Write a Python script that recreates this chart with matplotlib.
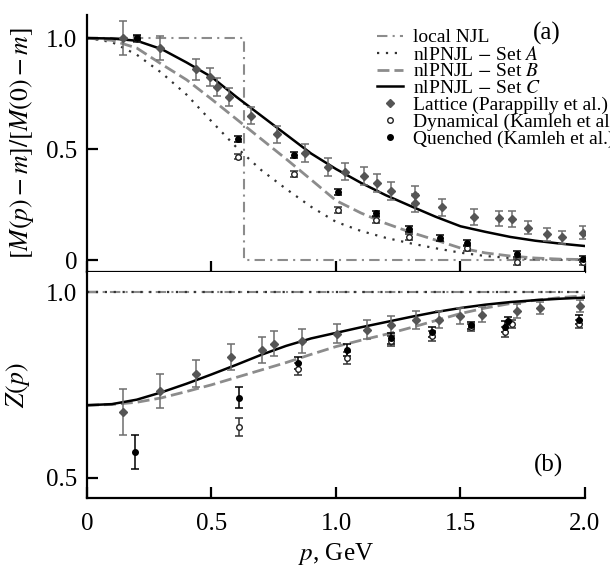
import matplotlib
matplotlib.use('Agg')
import matplotlib.pyplot as plt

plt.rcParams['font.family'] = ['Liberation Serif', 'DejaVu Serif']
plt.rcParams['mathtext.fontset'] = 'stix'

# ---------------------------------------------------------------------------
# curves, upper panel: [M(p) - m] / [M(0) - m]
p_curve = [0.0, 0.1, 0.2, 0.3, 0.4, 0.5, 0.6, 0.7, 0.8, 0.9, 1.0,
           1.1, 1.2, 1.3, 1.4, 1.5, 1.6, 1.7, 1.8, 1.9, 2.0]
m_set_a = [1.000, 0.982, 0.925, 0.843, 0.745, 0.625, 0.508, 0.405, 0.320, 0.240, 0.172,
           0.131, 0.100, 0.075, 0.053, 0.033, 0.018, 0.009, 0.004, 0.002, 0.001]
m_set_b = [1.000, 0.990, 0.955, 0.882, 0.812, 0.725, 0.635, 0.545, 0.455, 0.362, 0.268,
           0.212, 0.165, 0.125, 0.090, 0.054, 0.032, 0.018, 0.009, 0.004, 0.002]
m_set_c = [1.000, 0.998, 0.988, 0.950, 0.890, 0.825, 0.735, 0.650, 0.565, 0.480, 0.410,
           0.348, 0.292, 0.243, 0.195, 0.152, 0.127, 0.104, 0.087, 0.074, 0.063]
p_njl = [0.0, 0.63, 0.63, 2.0]
m_njl = [1.0, 1.0, 0.0, 0.0]

# curves, lower panel: Z(p)
z_set_b = [0.695, 0.697, 0.703, 0.715, 0.732, 0.750, 0.770, 0.790, 0.810, 0.832, 0.853,
           0.870, 0.886, 0.904, 0.923, 0.942, 0.957, 0.969, 0.978, 0.985, 0.990]
z_set_c = [0.695, 0.698, 0.710, 0.730, 0.753, 0.778, 0.804, 0.831, 0.855, 0.875, 0.890,
           0.905, 0.919, 0.933, 0.946, 0.957, 0.966, 0.973, 0.978, 0.982, 0.985]
p_flat = [0.0, 2.0]
z_flat = [1.0, 1.0]

# lattice (Parappilly et al.)
p_lat_m = [0.143, 0.293, 0.437, 0.493, 0.521, 0.572, 0.660, 0.762, 0.876, 0.967, 1.037, 1.113,
           1.164, 1.220, 1.318, 1.318, 1.425, 1.555, 1.653, 1.708, 1.771, 1.847, 1.908, 1.994]
m_lat = [1.000, 0.956, 0.860, 0.823, 0.781, 0.736, 0.650, 0.566, 0.483, 0.420, 0.398, 0.378,
         0.348, 0.311, 0.293, 0.258, 0.237, 0.195, 0.188, 0.185, 0.146, 0.116, 0.102, 0.123]
m_lat_err = [0.075, 0.053, 0.047, 0.040, 0.040, 0.040, 0.038, 0.039, 0.041, 0.041, 0.038, 0.040,
             0.040, 0.040, 0.040, 0.040, 0.040, 0.035, 0.035, 0.035, 0.030, 0.030, 0.028, 0.030]
p_lat_z = [0.145, 0.295, 0.436, 0.577, 0.704, 0.753, 0.862, 1.003, 1.125, 1.221,
           1.322, 1.413, 1.500, 1.588, 1.726, 1.819, 1.980]
z_lat = [0.677, 0.733, 0.780, 0.825, 0.845, 0.861, 0.868, 0.888, 0.899, 0.910,
         0.924, 0.926, 0.935, 0.939, 0.948, 0.958, 0.962]
z_lat_err = [0.061, 0.045, 0.036, 0.035, 0.035, 0.034, 0.032, 0.026, 0.025, 0.025,
             0.024, 0.022, 0.022, 0.021, 0.019, 0.016, 0.017]

# quenched / dynamical (Kamleh et al.)
p_que_m = [0.200, 0.606, 0.833, 1.010, 1.161, 1.294, 1.416, 1.526, 1.727, 1.994]
m_que = [1.000, 0.545, 0.474, 0.305, 0.210, 0.140, 0.098, 0.075, 0.027, 0.003]
p_dyn_m = [0.200, 0.606, 0.833, 1.010, 1.161, 1.294, 1.526, 1.727, 1.994]
m_dyn = [0.995, 0.466, 0.387, 0.225, 0.180, 0.103, 0.053, -0.008, -0.010]
m_pt_err = 0.013

p_que_z = [0.194, 0.611, 0.846, 1.045, 1.219, 1.387, 1.543, 1.677, 1.692, 1.974]
z_que = [0.569, 0.715, 0.808, 0.844, 0.875, 0.893, 0.910, 0.907, 0.922, 0.926]
z_que_err = [0.047, 0.028, 0.016, 0.016, 0.014, 0.014, 0.010, 0.014, 0.012, 0.012]
p_dyn_z = [0.611, 0.846, 1.045, 1.219, 1.387, 1.543, 1.677, 1.708, 1.974]
z_dyn = [0.636, 0.792, 0.823, 0.868, 0.882, 0.905, 0.893, 0.914, 0.914]
z_dyn_err = [0.025, 0.016, 0.016, 0.014, 0.014, 0.010, 0.014, 0.012, 0.012]
# ---------------------------------------------------------------------------

gray_line = '#8c8c8c'
gray_pt = '#555555'
gray_err = '#6e6e6e'

fig = plt.figure(figsize=(6.1, 5.7), dpi=100)
ax_m = fig.add_axes([0.1426, 0.5228, 0.8164, 0.4509])
ax_z = fig.add_axes([0.1426, 0.1263, 0.8164, 0.3965])


def draw_points(ax, px, py, perr, **kw):
    ax.errorbar(px, py, yerr=perr, fmt='none', ecolor=kw.pop('ecolor'), elinewidth=1.1,
                capsize=2.6, capthick=1.1, zorder=4)
    ax.plot(px, py, linestyle='none', zorder=5, **kw)


# upper panel
ax_m.plot(p_njl, m_njl, color=gray_line, lw=1.5, linestyle=(0, (5, 2.5, 1, 2.5)), label='local NJL')
ax_m.plot(p_curve, m_set_a, color='#333333', lw=1.6, linestyle=(0, (1, 3)), label='nlPNJL $-$ Set $A$')
ax_m.plot(p_curve, m_set_b, color=gray_line, lw=2.0, linestyle=(0, (4.3, 1.8)), label='nlPNJL $-$ Set $B$')
ax_m.plot(p_curve, m_set_c, color='black', lw=1.8, label='nlPNJL $-$ Set $C$')
draw_points(ax_m, p_lat_m, m_lat, m_lat_err, marker='D', ms=4.5, color=gray_pt, ecolor=gray_err,
            label='Lattice (Parappilly et al.)')
draw_points(ax_m, p_dyn_m, m_dyn, m_pt_err, marker='o', ms=4, mfc='white', mec='#222222', mew=1.0,
            ecolor='#333333', label='Dynamical (Kamleh et al.)')
draw_points(ax_m, p_que_m, m_que, m_pt_err, marker='o', ms=4, color='black', ecolor='black',
            label='Quenched (Kamleh et al.)')

# lower panel
ax_z.plot(p_flat, z_flat, color=gray_line, lw=1.5, linestyle=(0, (5, 2.5, 1, 2.5)))
ax_z.plot(p_flat, z_flat, color='#333333', lw=1.6, linestyle=(0, (1, 3)))
ax_z.plot(p_curve, z_set_b, color=gray_line, lw=2.0, linestyle=(0, (4.3, 1.8)))
ax_z.plot(p_curve, z_set_c, color='black', lw=1.8)
draw_points(ax_z, p_lat_z, z_lat, z_lat_err, marker='D', ms=4.5, color=gray_pt, ecolor=gray_err)
draw_points(ax_z, p_dyn_z, z_dyn, z_dyn_err, marker='o', ms=4, mfc='white', mec='#222222', mew=1.0,
            ecolor='#333333')
draw_points(ax_z, p_que_z, z_que, z_que_err, marker='o', ms=4, color='black', ecolor='black')

# axes
for ax in (ax_m, ax_z):
    ax.set_xlim(0, 2.0)
    ax.spines['right'].set_visible(False)
    ax.spines['top'].set_visible(False)
    ax.spines['left'].set_linewidth(1.6)
    ax.spines['bottom'].set_linewidth(1.6)
    ax.tick_params(direction='in', length=8, width=1.6, labelsize=18, pad=7)
    ax.tick_params(axis='x', pad=11)
    ax.set_xticks([0, 0.5, 1.0, 1.5, 2.0])

ax_m.set_ylim(-0.054, 1.104)
ax_m.set_yticks([0, 0.5, 1.0])
ax_m.set_yticklabels(['0', '0.5', '1.0'])
ax_m.tick_params(axis='x', labelbottom=False)
ax_m.set_ylabel('$[M(p) - m]/[M(0) - m]$', fontsize=18.5, labelpad=7)

ax_z.set_ylim(0.445, 1.054)
ax_z.set_yticks([0.5, 1.0])
ax_z.set_yticklabels(['0.5', '1.0'])
ax_z.set_xticklabels(['0', '0.5', '1.0', '1.5', '2.0'])
ax_z.set_ylabel('$Z(p)$', fontsize=18.5, labelpad=10)
ax_z.set_xlabel('$p$, GeV', fontsize=18, labelpad=4)

ax_m.text(533 / 610, 1 - 33 / 570, '(a)', transform=fig.transFigure, fontsize=18, va='center', ha='left')
ax_z.text(534 / 610, 1 - 465 / 570, '(b)', transform=fig.transFigure, fontsize=18, va='center', ha='left')

ax_m.legend(loc='upper left', bbox_to_anchor=(377 / 610, 1 - 29 / 570), bbox_transform=fig.transFigure,
            frameon=False, fontsize=14, borderpad=0, borderaxespad=0, labelspacing=-0.02,
            handlelength=1.35, handletextpad=0.5, handleheight=0.6)

fig.savefig('out.png', dpi=100)
